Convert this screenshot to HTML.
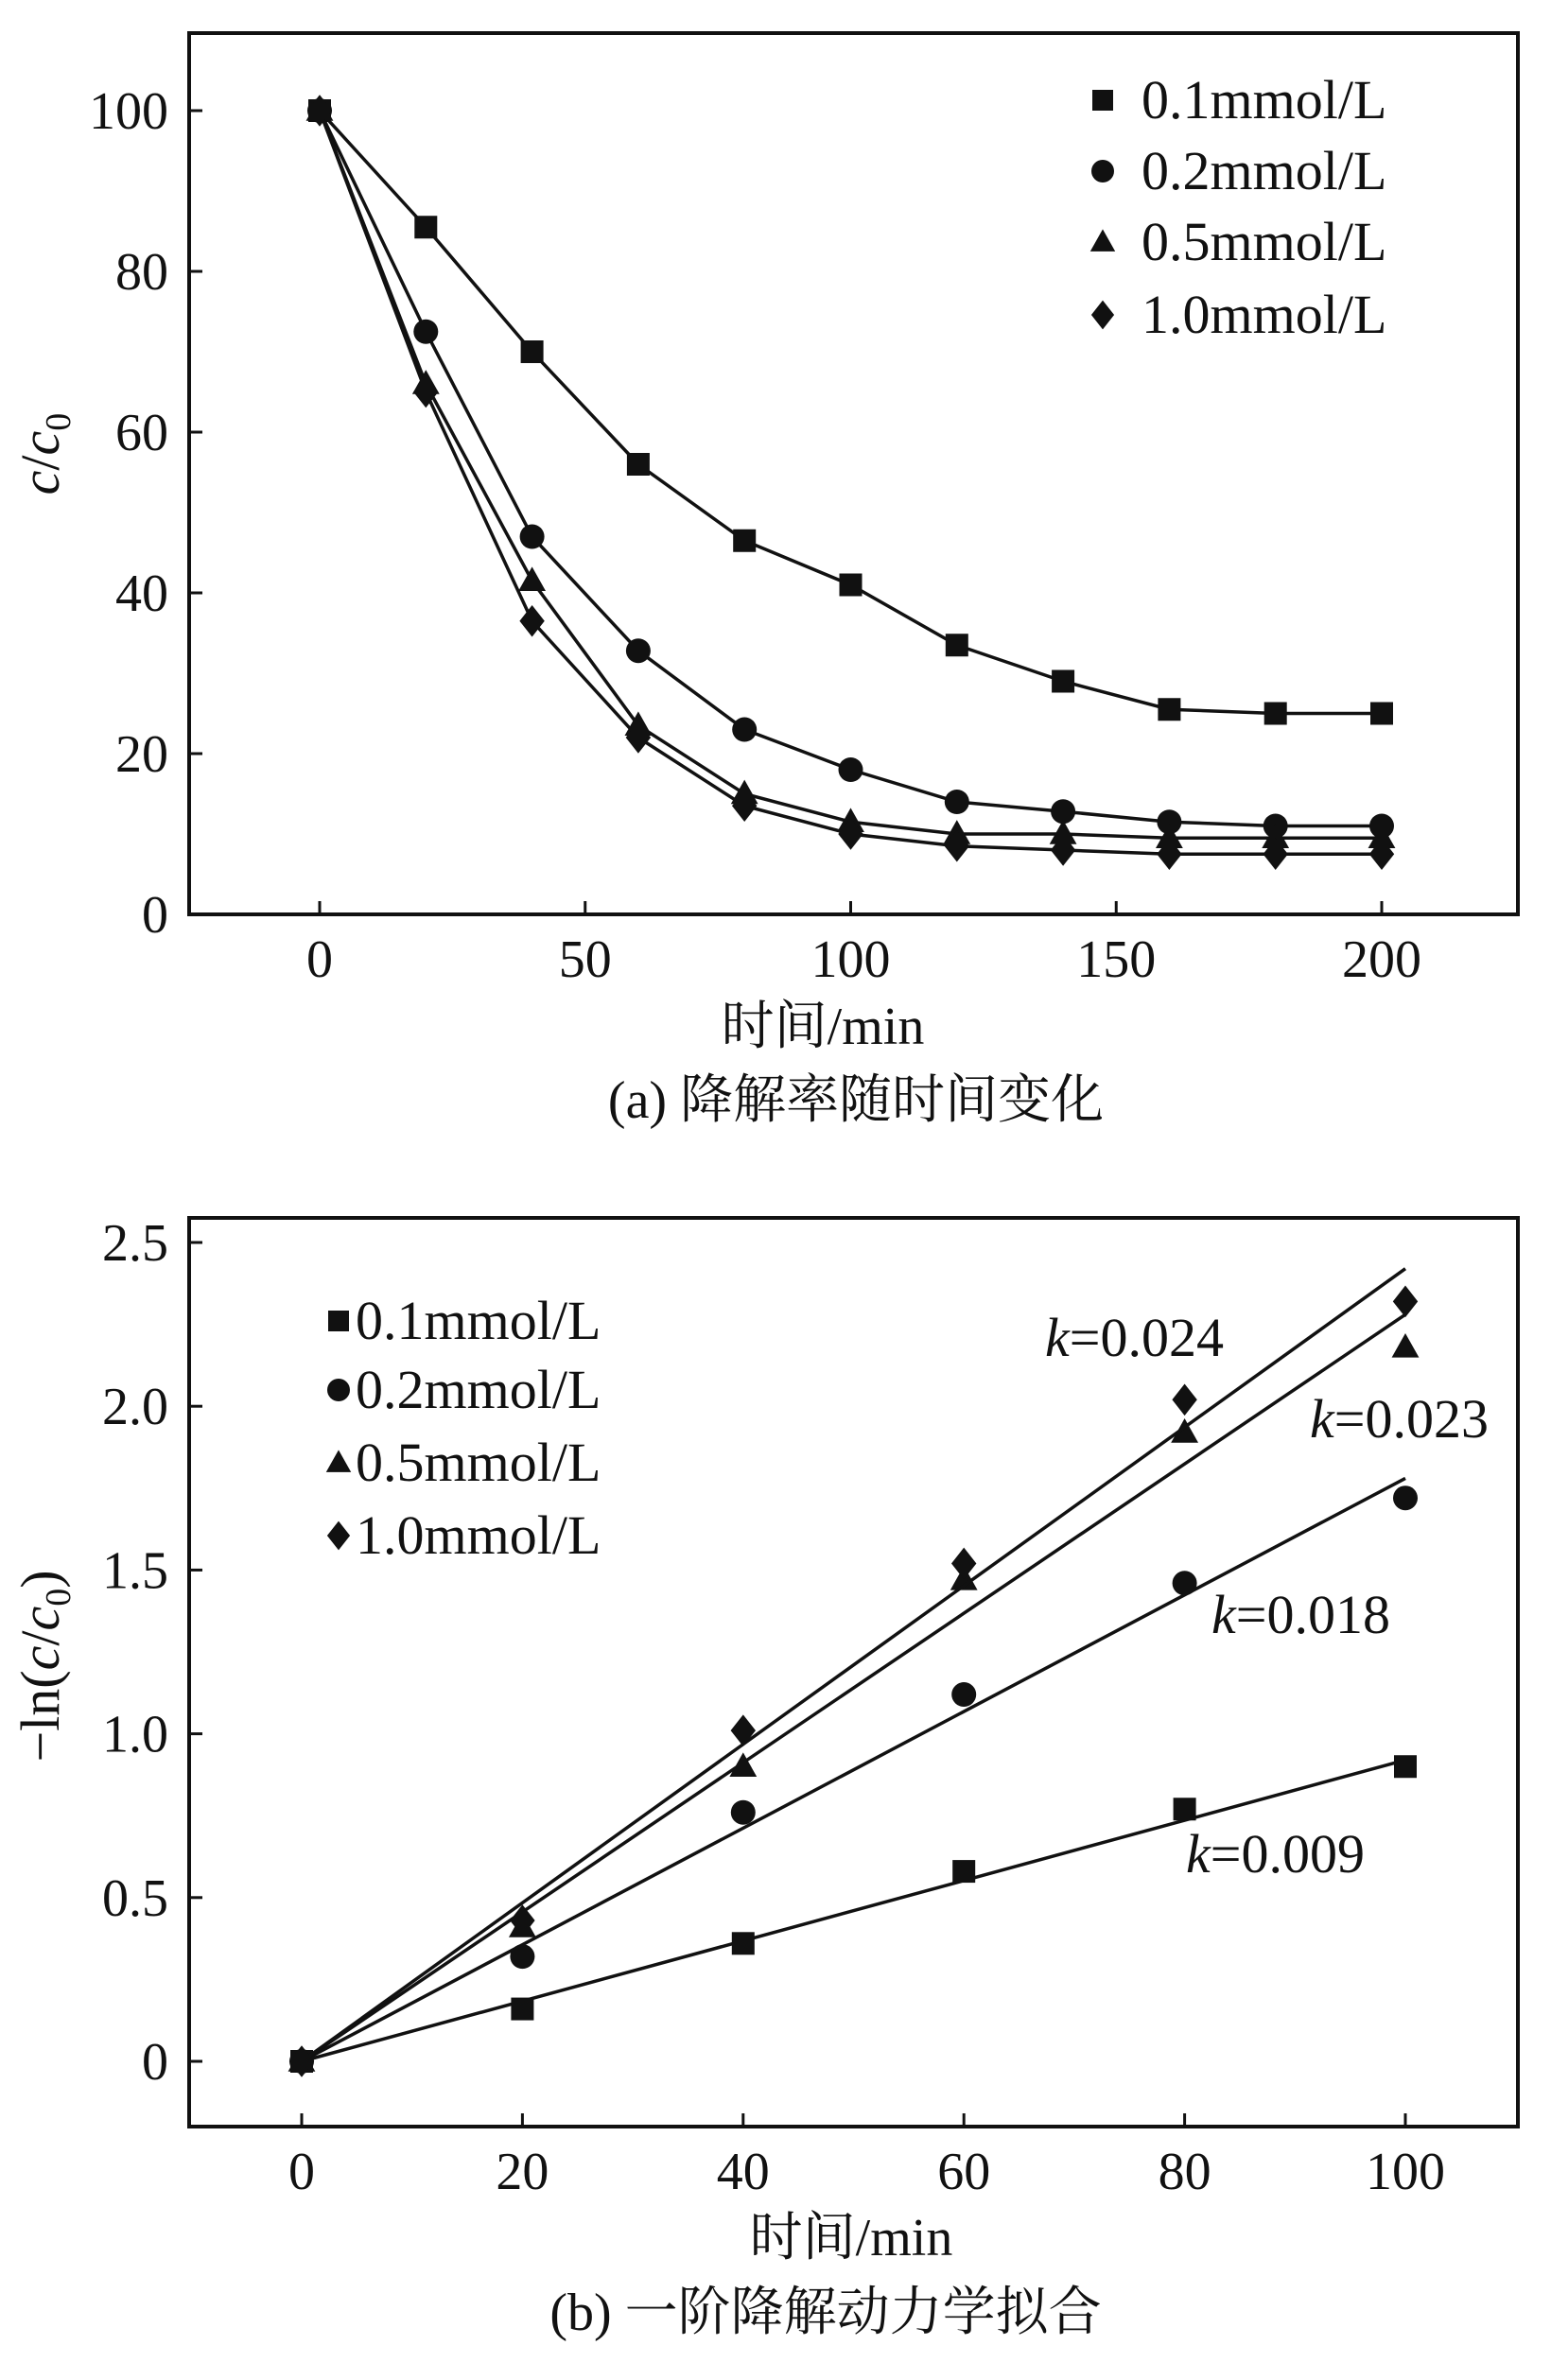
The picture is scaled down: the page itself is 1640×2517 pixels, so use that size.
<!DOCTYPE html>
<html><head><meta charset="utf-8"><style>
html,body{margin:0;padding:0;background:#fff;}
svg{display:block;}
text{font-family:"Liberation Serif","Noto Serif CJK SC",serif;}
</style></head><body>
<svg id="fig" width="1640" height="2517" viewBox="0 0 1640 2517" xmlns="http://www.w3.org/2000/svg">
<g id="chartA"></g>
<g id="chartB"></g>
</svg>
<script>
const NS="http://www.w3.org/2000/svg";
// Chart A data
const aTimes=[0,20,40,60,80,100,120,140,160,180,200];
const aS01=[100,85.5,70,56,46.5,41,33.5,29,25.5,25,25];
const aS02=[100,72.5,47,32.8,23,18,14,12.8,11.5,11,11];
const aS05=[100,66,41.5,23.5,15,11.5,10,10,9.5,9.5,9.5];
const aS10=[100,65,36.5,22,13.5,10,8.5,8,7.5,7.5,7.5];
const aXTicks=[0,50,100,150,200];
const aYTicks=[0,20,40,60,80,100];
const legendLabels=["0.1mmol/L","0.2mmol/L","0.5mmol/L","1.0mmol/L"];
// Chart B data
const bTimes=[0,20,40,60,80,100];
const bS01=[0,0.16,0.36,0.58,0.77,0.90];
const bS02=[0,0.32,0.76,1.12,1.46,1.72];
const bS05=[0,0.41,0.90,1.47,1.92,2.18];
const bS10=[0,0.43,1.01,1.52,2.02,2.32];
const bSlopes=[0.0092,0.0178,0.0228,0.0242];
const bKLabels=["0.009","0.018","0.023","0.024"];
const bXTicks=[0,20,40,60,80,100];
const bYTicks=[0,0.5,1.0,1.5,2.0,2.5];
const bYTickLabels=["0","0.5","1.0","1.5","2.0","2.5"];

const FF='"Liberation Serif","Noto Serif CJK SC",serif';
function el(tag,attrs,parent){const e=document.createElementNS(NS,tag);for(const k in attrs)e.setAttribute(k,attrs[k]);if(tag==="text")e.setAttribute("font-family",FF);parent.appendChild(e);return e;}
function marker(g,shape,x,y,s){
  let m;
  if(shape==="square"){m=el("rect",{x:x-s/2,y:y-s/2,width:s,height:s,fill:"#111"},g);}
  else if(shape==="circle"){m=el("circle",{cx:x,cy:y,r:s/2+1,fill:"#111"},g);}
  else if(shape==="triangle"){m=el("polygon",{points:`${x},${y-s*0.62} ${x-s*0.6},${y+s*0.45} ${x+s*0.6},${y+s*0.45}`,fill:"#111"},g);}
  else {m=el("polygon",{points:`${x},${y-s*0.7} ${x+s*0.55},${y} ${x},${y+s*0.7} ${x-s*0.55},${y}`,fill:"#111"},g);}
  
  
  return m;
}
const shapes=["square","circle","triangle","diamond"];

// ---- Chart A ----
(function(){
  const g=document.getElementById("chartA");
  const L=200,R=1605,T=35,B=967;
  const xs=v=>338+(v)*(1461-338)/200;
  const ys=v=>967-v*(967-117)/100;
  const fr=el("rect",{x:L,y:T,width:R-L,height:B-T,fill:"none",stroke:"#111","stroke-width":4},g);
  
  
  aXTicks.forEach(v=>{
    const t=el("line",{x1:xs(v),x2:xs(v),y1:B,y2:B-14,stroke:"#111","stroke-width":3},g);
    
    
    const tx=el("text",{x:xs(v),y:B+66,"font-size":56,"text-anchor":"middle",fill:"#111"},g);tx.textContent=v;
    
    
  });
  aYTicks.forEach(v=>{
    const t=el("line",{x1:L,x2:L+14,y1:ys(v),y2:ys(v),stroke:"#111","stroke-width":3},g);
    
    
    const tx=el("text",{x:178,y:ys(v)+19,"font-size":56,"text-anchor":"end",fill:"#111"},g);tx.textContent=v;
    
    
  });
  [aS01,aS02,aS05,aS10].forEach((s,i)=>{
    const pts=aTimes.map((t,j)=>xs(t)+","+ys(s[j])).join(" ");
    const pl=el("polyline",{points:pts,fill:"none",stroke:"#111","stroke-width":3.5},g);
    
    
    aTimes.forEach((t,j)=>marker(g,shapes[i],xs(t),ys(s[j]),24));
  });
  const ly=[106,181,256,333];
  legendLabels.forEach((lab,i)=>{
    marker(g,shapes[i],1166,ly[i],22);
    const tx=el("text",{x:1207,y:ly[i]+19,"font-size":58,fill:"#111"},g);tx.textContent=lab;
    
    
  });
  const yt=el("text",{transform:"translate(62,480) rotate(-90)","font-size":58,"text-anchor":"middle",fill:"#111"},g);
  yt.innerHTML='<tspan font-style="italic">c</tspan>/<tspan font-style="italic">c</tspan><tspan font-size="38" dy="12">0</tspan>';
  
  
  const xt=el("text",{x:870,y:1104,"font-size":56,"text-anchor":"middle",fill:"#111"},g);xt.textContent="时间/min";
  
  
  const cap=el("text",{x:905,y:1182,"font-size":56,"text-anchor":"middle",fill:"#111"},g);cap.textContent="(a) 降解率随时间变化";
  
  
})();

// ---- Chart B ----
(function(){
  const g=document.getElementById("chartB");
  const L=200,R=1605,T=1288,B=2249;
  const xs=v=>319+v*(1486-319)/100;
  const ys=v=>2180-v*(2180-1314)/2.5;
  const fr=el("rect",{x:L,y:T,width:R-L,height:B-T,fill:"none",stroke:"#111","stroke-width":4},g);
  
  
  bXTicks.forEach(v=>{
    const t=el("line",{x1:xs(v),x2:xs(v),y1:B,y2:B-14,stroke:"#111","stroke-width":3},g);
    
    
    const tx=el("text",{x:xs(v),y:B+66,"font-size":56,"text-anchor":"middle",fill:"#111"},g);tx.textContent=v;
    
    
  });
  bYTicks.forEach((v,i)=>{
    const t=el("line",{x1:L,x2:L+14,y1:ys(v),y2:ys(v),stroke:"#111","stroke-width":3},g);
    
    
    const tx=el("text",{x:178,y:ys(v)+19,"font-size":56,"text-anchor":"end",fill:"#111"},g);tx.textContent=bYTickLabels[i];
    
    
  });
  [bS01,bS02,bS05,bS10].forEach((s,i)=>{
    const fl=el("line",{x1:xs(0),y1:ys(0),x2:xs(100),y2:ys(bSlopes[i]*100),stroke:"#111","stroke-width":3.5},g);
    
    
    bTimes.forEach((t,j)=>marker(g,shapes[i],xs(t),ys(s[j]),24));
  });
  const kpos=[[1254,1980],[1281,1727],[1385,1520],[1105,1434]];
  bKLabels.forEach((k,i)=>{
    const tx=el("text",{x:kpos[i][0],y:kpos[i][1],"font-size":58,fill:"#111"},g);
    tx.innerHTML='<tspan font-style="italic">k</tspan>='+k;
    
    
  });
  const ly=[1397,1470,1547,1624];
  legendLabels.forEach((lab,i)=>{
    marker(g,shapes[i],358,ly[i],22);
    const tx=el("text",{x:376,y:ly[i]+19,"font-size":58,fill:"#111"},g);tx.textContent=lab;
    
    
  });
  const yt=el("text",{transform:"translate(62,1762) rotate(-90)","font-size":58,"text-anchor":"middle",fill:"#111"},g);
  yt.innerHTML='−ln(<tspan font-style="italic">c</tspan>/<tspan font-style="italic">c</tspan><tspan font-size="38" dy="12">0</tspan><tspan dy="-12">)</tspan>';
  
  
  const xt=el("text",{x:900,y:2385,"font-size":56,"text-anchor":"middle",fill:"#111"},g);xt.textContent="时间/min";
  
  
  const cap=el("text",{x:873,y:2464,"font-size":56,"text-anchor":"middle",fill:"#111"},g);cap.textContent="(b) 一阶降解动力学拟合";
  
  
})();
</script>
</body></html>
